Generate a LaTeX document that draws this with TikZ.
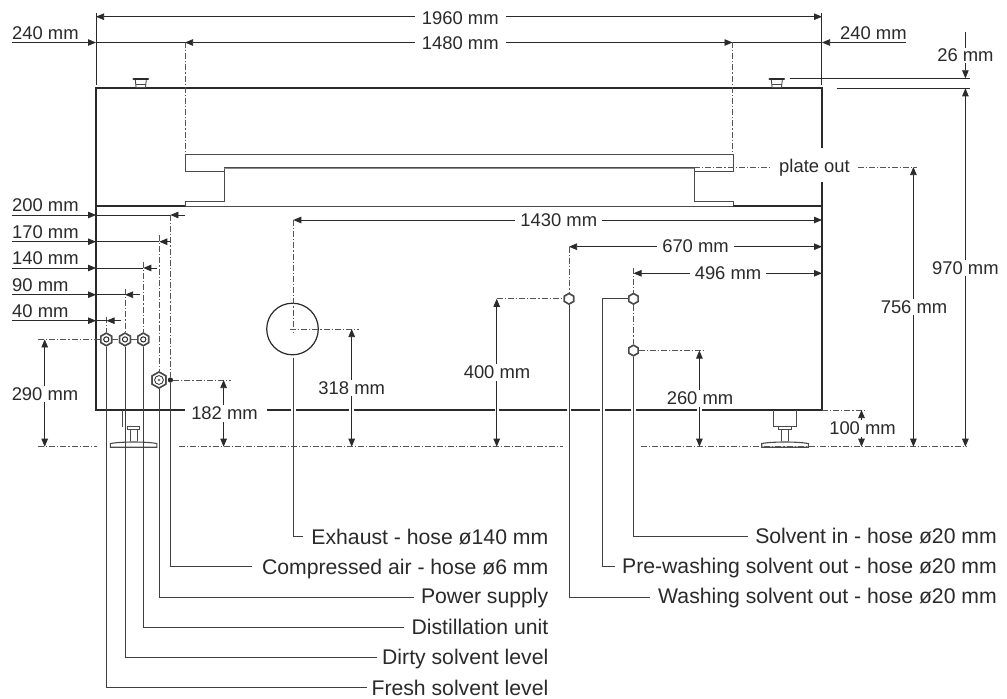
\documentclass[tikz,border=0pt]{standalone}
\usepackage{fontspec}
\setmainfont{Liberation Sans}
\usetikzlibrary{arrows.meta,shapes.geometric}
\definecolor{ink}{HTML}{2B2A29}
\tikzset{
  x=1pt,y=-1pt,
  every node/.style={text=ink,font=\fontsize{18.4}{20}\selectfont},
  lbl/.style={fill=white,inner xsep=3pt,inner ysep=0pt,text height=13pt,text depth=0.5pt,anchor=center},
  toplbl/.style={inner sep=0pt,anchor=base west},
  leaf/.style={inner sep=0pt,anchor=base east,font=\fontsize{21.2}{23}\selectfont},
  body/.style={draw=ink,line width=1.4pt},
  thin part/.style={draw=ink!85,line width=0.9pt},
  dimline/.style={draw=ink,line width=0.75pt},
  tip/.tip={Triangle[length=8pt,width=6.5pt,ink]},
  center line/.style={draw=ink!80,line width=0.7pt,dash pattern=on 6pt off 2pt on 1.2pt off 2pt},
  leader/.style={draw=ink!90,line width=0.85pt},
  hexa/.style={regular polygon,regular polygon sides=6,shape border rotate=30,draw=ink!85,fill=white,line width=1.5pt,inner sep=0pt,minimum size=#1},
  dotc/.style={circle,fill=ink,inner sep=0pt,minimum size=5pt}
}
\begin{document}
\begin{tikzpicture}
\useasboundingbox (0,0) rectangle (1007,699);
\fill[white] (0,0) rectangle (1007,699);

% ---------- machine ----------
\draw[body] (822,148) -- (822,88) -- (96,88) -- (96,410) -- (185,410);
\draw[body] (267,410) -- (822,410) -- (822,182);
\draw[thin part] (185,206) -- (185,201.7) -- (733,201.7) -- (733,206) -- cycle;
\draw[body] (96,206) -- (185,206);
\draw[body] (733,206) -- (822,206);
\draw[thin part,line width=1pt,fill=white] (185,154.5) rectangle (733,171);
\draw[thin part,line width=1pt,fill=white] (224,201.7) -- (224,167.5) -- (694,167.5) -- (694,201.7);
\draw[draw=ink!55,line width=1.6pt] (224,168.5) -- (694,168.5);
% gaps in the lower edge
\foreach \gx in {293.3,351.7,497,569,602.7,633.5,699.4}
  \fill[white] (\gx-2.4,408) rectangle (\gx+2.4,412);
% knobs
\foreach \kx in {140.8,776.8} {
  \draw[thin part] (\kx-5.5,80) -- (\kx-4.7,87.5) -- (\kx+4.7,87.5) -- (\kx+5.5,80);
  \draw[thin part] (\kx-5,84.5) -- (\kx+5,84.5);
  \draw[draw=ink,line width=2.4pt,line cap=round] (\kx-7.2,78.8) -- (\kx+7.2,78.8);
}
% feet
\draw[thin part] (122.3,410) -- (122.3,427);
\draw[thin part] (773.3,410) -- (773.3,426) -- (796.7,426) -- (796.7,410);
\foreach \fx in {133.6,785} {
  \draw[thin part] (\fx-6.2,426.5) rectangle (\fx+6.2,429.5);
  \draw[thin part] (\fx-3.6,429.5) -- (\fx-3.6,441);
  \draw[thin part] (\fx+3.6,429.5) -- (\fx+3.6,441);
  \draw[thin part,line width=1.1pt,fill=white] (\fx-23.3,447.2) -- (\fx-23.3,443.5) .. controls (\fx-12,441.5) and (\fx+12,441.5) .. (\fx+23.3,443.5) -- (\fx+23.3,447.2) -- cycle;
}
\node[circle,draw=ink,line width=1.2pt,minimum size=51.6pt,inner sep=0pt] (exhaust) at (292.5,329) {};

% ---------- ports ----------
\node[hexa=12.5pt] (p40) at (106.3,339.4) {};
\node[hexa=12.5pt] (p90) at (125,339.4) {};
\node[hexa=12.5pt] (p140) at (143.3,339.4) {};
\node[hexa=16pt] (pow) at (159,380) {};
\node[dotc] (air) at (170.4,380) {};
\node[hexa=10.5pt] (wash) at (569,298.8) {};
\node[hexa=10.5pt] (prew) at (633.5,298.8) {};
\node[hexa=10.5pt] (solv) at (633.5,350.5) {};

% ---------- centre lines ----------
\coordinate (c185a) at (185,42); \coordinate (c185b) at (185,153);
\coordinate (c732a) at (732.5,42); \coordinate (c732b) at (732.5,154);
\draw[center line] (c185a) -- (c185b);
\draw[center line] (c732a) -- (c732b);
\coordinate (gl1) at (38,446.7); \coordinate (gl2) at (97,446.7);
\coordinate (gl3) at (179,446.7); \coordinate (gl4) at (563,446.7);
\coordinate (gl5) at (641,446.7); \coordinate (gl6) at (967,446.7);
\draw[center line] (gl1) -- (gl2);
\draw[center line] (gl3) -- (gl4);
\draw[center line] (gl5) -- (gl6);
\coordinate (hl0) at (38,339.4);
\draw[center line] (hl0) -- (p40);
\draw[center line] (p40) -- (p90);
\draw[center line] (p90) -- (p140);
\coordinate (v200) at (170.4,215);
\draw[center line] (v200) -- (air);
\coordinate (v170) at (159,235);
\draw[center line] (v170) -- (pow);
\coordinate (v140) at (143.3,261.7);
\draw[center line] (v140) -- (p140);
\coordinate (v90) at (125,289);
\draw[center line] (v90) -- (p90);
\coordinate (v40) at (106.3,316.7);
\draw[center line] (v40) -- (p40);
\coordinate (h182) at (230.5,380);
\draw[center line] (air) -- (h182);
\coordinate (v1430) at (293.3,220); \coordinate (v1430b) at (293.3,333);
\draw[center line] (v1430) -- (v1430b);
\coordinate (h318a) at (290,329); \coordinate (h318b) at (359,329);
\draw[center line] (h318a) -- (h318b);
\coordinate (v670) at (569,246.7);
\draw[center line] (v670) -- (wash);
\coordinate (h400) at (496.7,298.8);
\draw[center line] (h400) -- (wash);
\coordinate (v496) at (633.5,268);
\draw[center line] (v496) -- (prew);
\draw[center line] (prew) -- (solv);
\coordinate (h260) at (703,350.5);
\draw[center line] (solv) -- (h260);
\coordinate (h100a) at (822,410); \coordinate (h100b) at (866,410);
\draw[center line] (h100a) -- (h100b);
\coordinate (pl1) at (694,167); \coordinate (pl2) at (772,167);
\coordinate (pl3) at (858,167); \coordinate (pl4) at (916.7,167);
\draw[center line] (pl1) -- (pl2);
\draw[center line] (pl3) -- (pl4);

% ---------- extension lines ----------
\coordinate (e1a) at (96.2,13); \coordinate (e1b) at (96.2,84.5);
\coordinate (e2a) at (821.8,13); \coordinate (e2b) at (821.8,84.5);
\draw[dimline] (e1a) -- (e1b);
\draw[dimline,line width=1pt] (e2a) -- (e2b);
\coordinate (e3a) at (789.5,78.3); \coordinate (e3b) at (970,78.3);
\coordinate (e4a) at (836.7,88.3); \coordinate (e4b) at (970,88.3);
\draw[dimline] (e3a) -- (e3b);
\draw[dimline] (e4a) -- (e4b);

% ---------- horizontal dimensions with the text on the line ----------
\coordinate (d1960a) at (96,16.7); \coordinate (d1960b) at (822,16.7);
\draw[dimline,{tip}-{tip}] (d1960a) -- (d1960b);
\node[lbl,inner xsep=7pt] (t1960) at (460.3,18) {1960 mm};
\coordinate (d1480a) at (185,42.5); \coordinate (d1480b) at (732.5,42.5);
\draw[dimline,{tip}-{tip}] (d1480a) -- (d1480b);
\node[lbl,inner xsep=7pt] (t1480) at (460.3,43) {1480 mm};
\coordinate (d1430a) at (293.3,220); \coordinate (d1430b) at (822,220);
\draw[dimline,{tip}-{tip}] (d1430a) -- (d1430b);
\node[lbl,inner xsep=5pt] (t1430) at (558.8,220.3) {1430 mm};
\coordinate (d670a) at (569,246.7); \coordinate (d670b) at (822,246.7);
\draw[dimline,{tip}-{tip}] (d670a) -- (d670b);
\node[lbl,inner xsep=5pt] (t670) at (695.5,246.7) {670 mm};
\coordinate (d496a) at (633.5,273.3); \coordinate (d496b) at (822,273.3);
\draw[dimline,{tip}-{tip}] (d496a) -- (d496b);
\node[lbl,inner xsep=5pt] (t496) at (728,273.3) {496 mm};

% ---------- 240 mm ----------
\coordinate (l240a) at (12,42.5); \coordinate (l240b) at (96,42.5);
\draw[dimline,-{tip}] (l240a) -- (l240b);
\draw[dimline] (l240b) -- (d1480a);
\node[toplbl] (t240l) at (12,39.3) {240 mm};
\coordinate (r240a) at (906,42.5); \coordinate (r240b) at (822,42.5);
\draw[dimline,-{tip}] (r240a) -- (r240b);
\draw[dimline] (r240b) -- (d1480b);
\node[toplbl] (t240r) at (840,39.3) {240 mm};

% ---------- left offset dimensions ----------
\foreach \nm/\yy/\tipx/\endx/\txt in {200/215/170.4/185/200 mm,170/241.7/159.3/170.4/170 mm,140/268/143.3/156.7/140 mm,90/294.7/125/140/90 mm,40/320.7/106.5/120.7/40 mm} {
  \coordinate (o\nm a) at (12,\yy);
  \coordinate (o\nm b) at (96,\yy);
  \coordinate (o\nm c) at (\tipx,\yy);
  \coordinate (o\nm d) at (\endx,\yy);
  \draw[dimline,-{tip}] (o\nm a) -- (o\nm b);
  \draw[dimline] (o\nm b) -- (o\nm c);
  \draw[dimline,-{tip}] (o\nm d) -- (o\nm c);
  \node[toplbl] (t\nm) at (12,\yy-3.3) {\txt};
}

% ---------- vertical dimensions ----------
\foreach \nm/\xx/\ya/\yb/\tx/\ty/\txt in {
  290/44.7/339.4/446.7/45/394/290 mm,
  182/223.6/380/446.7/224.5/413.5/182 mm,
  318/351.7/329/446.7/351.7/388/318 mm,
  400/496.7/298.8/446.7/497/372.6/400 mm,
  260/699.4/350.5/446.7/700/398.3/260 mm,
  100/861.5/410/446.7/862.5/428.3/100 mm,
  756/913.4/167/446.7/914/307/756 mm,
  970/965.4/88.3/446.7/965.4/268/970 mm} {
  \coordinate (y\nm a) at (\xx,\ya);
  \coordinate (y\nm b) at (\xx,\yb);
  \draw[dimline,{tip}-{tip}] (y\nm a) -- (y\nm b);
  \node[lbl,inner ysep=1.5pt] (t\nm) at (\tx,\ty) {\txt};
}
\coordinate (y26a) at (965.4,32); \coordinate (y26b) at (965.4,78.3);
\draw[dimline,-{tip}] (y26a) -- (y26b);
\node[lbl,inner ysep=1pt,inner xsep=1pt] (t26) at (965.4,55.7) {26 mm};
\node[lbl,inner xsep=7pt,inner ysep=2pt] (plate) at (814.5,166.5) {plate out};

% ---------- labels with leaders ----------
\node[leaf] (lexh) at (548.5,544) {Exhaust - hose ø140 mm};
\node[leaf] (lair) at (548.5,574) {Compressed air - hose ø6 mm};
\node[leaf] (lpow) at (548.5,603.5) {Power supply};
\node[leaf] (ldis) at (548.5,634) {Distillation unit};
\node[leaf] (ldir) at (548.5,664.5) {Dirty solvent level};
\node[leaf] (lfre) at (548.5,695) {Fresh solvent level};
\node[leaf] (lsol) at (997,543.5) {Solvent in - hose ø20 mm};
\node[leaf] (lpre) at (997,573.5) {Pre-washing solvent out - hose ø20 mm};
\node[leaf] (lwas) at (997,603.5) {Washing solvent out - hose ø20 mm};

\coordinate (ex0) at (293.3,358.3); \coordinate (ex1) at (302.7,536.7);
\draw[leader] (ex0) |- (ex1);
\coordinate (ai1) at (251.7,566);
\draw[leader] (air) |- (ai1);
\coordinate (po1) at (414,597);
\draw[leader] (pow) |- (po1);
\coordinate (di1) at (404,627);
\draw[leader] (p140) |- (di1);
\coordinate (dr1) at (376.7,657);
\draw[leader] (p90) |- (dr1);
\coordinate (fr1) at (367,687.5);
\draw[leader] (p40) |- (fr1);
\coordinate (so1) at (748,536);
\draw[leader] (solv) |- (so1);
\coordinate (pr0) at (602.7,298.8); \coordinate (pr1) at (615,566.7);
\draw[leader] (prew) -- (pr0) |- (pr1);
\coordinate (wa1) at (650,597.3);
\draw[leader] (wash) |- (wa1);

% ports above the leaders
\foreach \n in {p40,p90,p140} {
  \node[hexa=12.5pt] at (\n) {};
  \draw[ink,line width=1pt] (\n) circle (2.6);
}
\node[hexa=16pt] at (pow) {};
\draw[ink,line width=0.8pt] (pow) circle (4.4);
\fill[ink!70] (pow) circle (1.4);
\node[hexa=10.5pt] at (wash) {}; \node[hexa=10.5pt] at (prew) {}; \node[hexa=10.5pt] at (solv) {};
\node[dotc] at (air) {};
\end{tikzpicture}
\end{document}
